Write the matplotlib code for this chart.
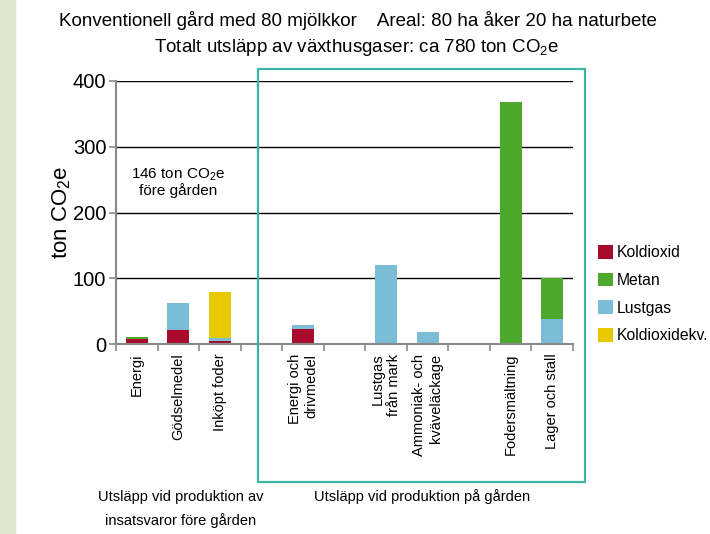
import matplotlib
matplotlib.use("Agg")
import matplotlib.pyplot as plt
import numpy as np
from matplotlib.patches import Patch, Rectangle

plt.rcParams["font.family"] = ["Liberation Sans", "DejaVu Sans"]
plt.rcParams["mathtext.fontset"] = "custom"
plt.rcParams["mathtext.rm"] = "Liberation Sans"

categories = ["Energi", "Gödselmedel", "Inköpt foder", "", "Energi och\ndrivmedel", "",
              "Lustgas\nfrån mark", "Ammoniak- och\nkväveläckage", "", "Fodersmältning", "Lager och stall"]
koldioxid = [7.5, 21, 4.5, 0, 23, 0, 0, 0, 0, 0, 0]
lustgas = [0, 41, 4.5, 0, 6, 0, 120, 18, 0, 0, 38]
metan = [3, 0, 0, 0, 0, 0, 0, 0, 0, 368, 63]
koldioxidekv = [0, 0, 70, 0, 0, 0, 0, 0, 0, 0, 0]

series = [("Koldioxid", koldioxid, "#a80b2c"),
          ("Lustgas", lustgas, "#7bbdd6"),
          ("Metan", metan, "#4ea82c"),
          ("Koldioxidekv.", koldioxidekv, "#e8c900")]
legend_order = ["Koldioxid", "Metan", "Lustgas", "Koldioxidekv."]

W, H = 710, 534
fig = plt.figure(figsize=(W / 100, H / 100), dpi=100)
fig.patches.append(Rectangle((0, 0), 15 / W, 1, transform=fig.transFigure, color="#dbe8cc", zorder=0))

ax = fig.add_axes([116 / W, 1 - 344 / H, (573 - 116) / W, (344 - 81) / H])
x = np.arange(len(categories))
bottom = np.zeros(len(categories))
for name, vals, color in series:
    vals = np.array(vals, dtype=float)
    ax.bar(x, vals, width=0.53, bottom=bottom, color=color, linewidth=0, zorder=3)
    bottom += vals

ax.set_xlim(-0.5, len(categories) - 0.5)
ax.set_ylim(0, 400)
ax.set_yticks([0, 100, 200, 300, 400])
ax.yaxis.grid(True, color="black", linewidth=1.0, zorder=1)
ax.set_axisbelow(True)
for s in ["top", "right"]:
    ax.spines[s].set_visible(False)
for s in ["left", "bottom"]:
    ax.spines[s].set_color("#8a8a8a")
    ax.spines[s].set_linewidth(1.5)
    ax.spines[s].set_zorder(4)
ax.tick_params(axis="y", colors="#8a8a8a", length=5, width=1.2, labelsize=14.5, labelcolor="black", pad=2)

ax.set_xticks(x)
ax.set_xticklabels(categories, rotation=90, fontsize=10.5, va="top", ha="center")
for lbl in ax.get_xticklabels():
    lbl.set_multialignment("right")
ax.set_xticks(np.arange(-0.5, len(categories), 1.0), minor=True)
ax.tick_params(axis="x", which="major", length=0, pad=7)
ax.tick_params(axis="x", which="minor", length=5, width=1.2, colors="#8a8a8a")

ax.set_ylabel(r"ton CO$_\mathregular{2}$e", fontsize=16, labelpad=0)

ax.text(1.0, 246, "146 ton CO$_\\mathregular{2}$e\nföre gården", ha="center", va="center",
        fontsize=11, linespacing=1.0)

fig.patches.append(Rectangle((258 / W, 1 - 482 / H), (585 - 258) / W, (482 - 69) / H,
                             transform=fig.transFigure, fill=False, edgecolor="#3cb5a5",
                             linewidth=1.6, zorder=5))

fig.text(358 / W, 1 - 20 / H, "Konventionell gård med 80 mjölkkor    Areal: 80 ha åker 20 ha naturbete",
         ha="center", va="center", fontsize=13.5)
fig.text(357 / W, 1 - 48 / H, "Totalt utsläpp av växthusgaser: ca 780 ton CO$_\\mathregular{2}$e",
         ha="center", va="center", fontsize=13.5)

fig.text(181 / W, 1 - 509 / H, "Utsläpp vid produktion av\ninsatsvaror före gården",
         ha="center", va="center", fontsize=10.5, linespacing=1.75)
fig.text(422 / W, 1 - 497 / H, "Utsläpp vid produktion på gården",
         ha="center", va="center", fontsize=10.5)

colors = {name: color for name, _, color in series}
handles = [Patch(facecolor=colors[n], edgecolor="none") for n in legend_order]
fig.legend(handles, legend_order, loc="upper left", bbox_to_anchor=(598 / W, 1 - 245 / H),
           frameon=False, fontsize=11.3, handlelength=0.95, handleheight=0.95,
           handletextpad=0.25, labelspacing=0.8, borderpad=0, borderaxespad=0)

fig.savefig("out.png", dpi=100)
